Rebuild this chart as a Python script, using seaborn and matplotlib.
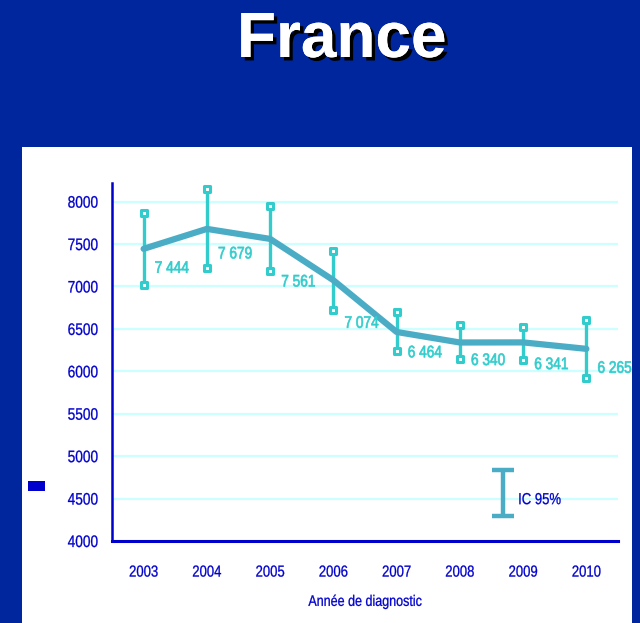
import numpy as np
import pandas as pd
import matplotlib
matplotlib.use("Agg")
import matplotlib.pyplot as plt
import matplotlib.patheffects as pe
from matplotlib.patches import Rectangle
from matplotlib.transforms import Affine2D
from matplotlib.legend_handler import HandlerErrorbar
from matplotlib.container import ErrorbarContainer
import seaborn as sns

# data
years = ["2003", "2004", "2005", "2006", "2007", "2008", "2009", "2010"]
cases = [7444, 7679, 7561, 7074, 6464, 6340, 6341, 6265]
ci_low = [7020, 7220, 7185, 6725, 6235, 6145, 6135, 5920]
ci_high = [7870, 8150, 7950, 7420, 6700, 6550, 6525, 6610]
value_labels = ["7 444", "7 679", "7 561", "7 074", "6 464", "6 340", "6 341", "6 265"]

# label placement (points below each point)
label_dy = [-14, -18, -31, -31, -15, -13, -16, -14]

BG = "#00269E"
AXIS_BLUE = "#0000CC"
LINE = "#4BACC6"
ERR = "#33CCCC"
GRID = "#CCFFFF"


class Squeeze(pe.AbstractPathEffect):
    """Narrow the glyphs horizontally (no Arial Narrow available)."""

    def __init__(self, sx=0.82, align="left", lw=0.2):
        super().__init__()
        self.sx = sx
        self.lw = lw
        self.frac = {"left": 0.0, "center": 0.5, "right": 1.0}[align]

    def draw_path(self, renderer, gc, tpath, affine, rgbFace=None):
        m = affine.get_matrix().copy()
        w = tpath.get_extents().x1 * m[0, 0]
        m[0, 2] += (1 - self.sx) * self.frac * w
        m[0, 0] *= self.sx
        gc0 = renderer.new_gc()
        gc0.copy_properties(gc)
        if self.lw and rgbFace is not None:
            gc0.set_linewidth(self.lw)
            gc0.set_foreground(rgbFace)
            gc0.set_joinstyle("round")
        renderer.draw_path(gc0, tpath, Affine2D(m), rgbFace)
        gc0.restore()


sns.set_style("white")
plt.rcParams["font.family"] = ["Liberation Sans", "DejaVu Sans"]

df = pd.DataFrame({"pos": np.arange(len(years)), "year": years, "cases": cases,
                   "low": ci_low, "high": ci_high})

fig = plt.figure(figsize=(6.4, 6.23), dpi=100, facecolor=BG)

# white panel behind the chart
fig.patches.append(Rectangle((22 / 640, 0), 610 / 640, (623 - 147) / 623,
                             transform=fig.transFigure, facecolor="white",
                             edgecolor="none", zorder=-10))
# small artefact left of the axis
fig.patches.append(Rectangle((28 / 640, 1 - 491 / 623), 17 / 640, 10 / 623,
                             transform=fig.transFigure, facecolor=AXIS_BLUE,
                             edgecolor="none", zorder=-5))

fig.text(0.534, 1 - 57 / 623, "France", color="white", fontsize=46,
         fontweight="bold", ha="center", va="baseline",
         path_effects=[pe.withSimplePatchShadow(offset=(2.5, -2.5),
                                                shadow_rgbFace="black", alpha=1),
                       pe.Normal()])

ax = fig.add_axes([112 / 640, 1 - 541 / 623, (618 - 112) / 640, (541 - 183) / 623])
ax.set_facecolor("none")

# confidence intervals
ax.errorbar(df["pos"], df["cases"],
            yerr=[df["cases"] - df["low"], df["high"] - df["cases"]],
            fmt="none", ecolor=ERR, elinewidth=2.4, capsize=0, zorder=3)
ax.scatter(np.r_[df["pos"], df["pos"]], np.r_[df["low"], df["high"]],
           marker="s", s=24, facecolor="white", edgecolor=ERR, linewidth=2.2,
           zorder=4)

sns.lineplot(data=df, x="pos", y="cases", color=LINE, linewidth=4.5, ax=ax,
             zorder=5, solid_capstyle="round")

for x, y, txt, dy in zip(df["pos"], df["cases"], value_labels, label_dy):
    ax.annotate(txt, (x, y), xytext=(8, dy), textcoords="offset points",
                ha="left", va="center", color=ERR, fontsize=12, zorder=6,
                path_effects=[Squeeze(align="left", lw=0.5)])

# legend key for the interval
key = ax.errorbar([np.nan], [np.nan], yerr=[[1], [1]], fmt="none", ecolor=LINE,
                  elinewidth=3.2, capsize=8, capthick=3.2, label="IC 95%")
leg = ax.legend(handles=[key],
                handler_map={ErrorbarContainer: HandlerErrorbar(yerr_size=1.42)},
                loc="center left", bbox_to_anchor=(0.742, 0.116), frameon=False,
                fontsize=11.5, handlelength=1.0, handleheight=3, handletextpad=0.42,
                borderpad=0, labelcolor=AXIS_BLUE)
for t in leg.get_texts():
    t.set_path_effects([Squeeze(align="left")])

ax.set_xlim(-0.5, len(years) - 0.5)
ax.set_ylim(4000, 8220)
ax.set_xticks(df["pos"])
ax.set_xticklabels(years)
ax.set_xticks(np.arange(-0.5, len(years)), minor=True)
ax.set_yticks(np.arange(4000, 8001, 500))

ax.grid(False)
ax.yaxis.grid(True, color=GRID, linewidth=1.6)
ax.set_axisbelow(True)

for side in ["top", "right"]:
    ax.spines[side].set_visible(False)
ax.spines["left"].set_color(AXIS_BLUE)
ax.spines["left"].set_linewidth(1.8)
ax.spines["bottom"].set_color(AXIS_BLUE)
ax.spines["bottom"].set_linewidth(2.2)

ax.tick_params(axis="y", direction="out", length=4, width=1.8, color=AXIS_BLUE,
               labelcolor=AXIS_BLUE, labelsize=12, pad=6)
ax.tick_params(axis="x", which="major", length=0, labelcolor=AXIS_BLUE,
               labelsize=11.5, pad=17)
ax.tick_params(axis="x", which="minor", direction="out", length=5, width=1.8,
               color=AXIS_BLUE)

ax.set_xlabel("Année de diagnostic", color=AXIS_BLUE, fontsize=11, labelpad=11)
ax.set_ylabel("")

for t in ax.get_yticklabels():
    t.set_path_effects([Squeeze(align="right")])
for t in ax.get_xticklabels():
    t.set_path_effects([Squeeze(align="center")])
ax.xaxis.label.set_path_effects([Squeeze(align="center")])

fig.savefig("out.png", dpi=100, facecolor=BG)
